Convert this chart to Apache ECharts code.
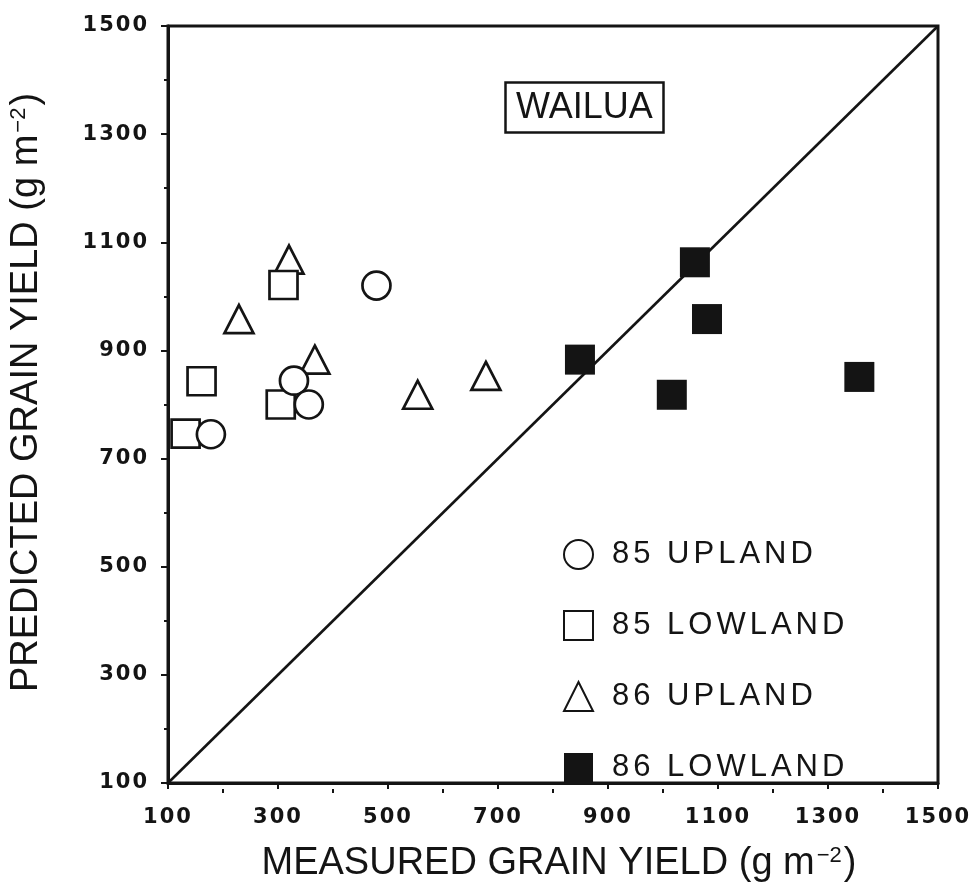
<!DOCTYPE html>
<html>
<head>
<meta charset="utf-8">
<title>WAILUA grain yield</title>
<script src="https://cdn.jsdelivr.net/npm/echarts@6/dist/echarts.min.js"></script>
<style>
  html, body { margin: 0; padding: 0; background: #fff; }
  #chart { width: 980px; height: 888px; }
</style>
</head>
<body>
<div id="chart"></div>
<script>
// Measured vs predicted grain yield (g m^-2), Wailua site
const upland85  = [[178, 745], [329, 844], [356, 800], [479, 1020]];
const lowland85 = [[132, 746], [161, 843], [305, 800], [310, 1021]];
const upland86  = [[229, 958], [320, 1068], [367, 883], [554, 818], [678, 853]];
const lowland86 = [[849, 883], [1016, 818], [1058, 1063], [1080, 958], [1357, 851]];

// 1:1 reference line
const oneToOne = [[100, 100], [1500, 1500]];

// axis ticks: labelled (major) and unlabelled (minor)
const majorTicks = [100, 300, 500, 700, 900, 1100, 1300, 1500];
const minorTicks = [200, 400, 600, 800, 1000, 1200, 1400];

// The lettering of this figure is widely tracked: legend text (31px) and
// tick numerals (21px) get extra letter spacing when painted.
(function () {
  const proto = CanvasRenderingContext2D.prototype;
  if (!('letterSpacing' in proto)) return;
  const fill = proto.fillText;
  proto.fillText = function (text, x, y, maxWidth) {
    const f = this.font || '';
    this.letterSpacing = /\b31px/.test(f) ? '4px' : /\b21px/.test(f) ? '2px' : '0px';
    return maxWidth === undefined ? fill.call(this, text, x, y) : fill.call(this, text, x, y, maxWidth);
  };
})();

const INK = '#141414';
const GRID = { left: 168, right: 42, top: 26, bottom: 99 };
const gridW = 980 - GRID.left - GRID.right;
const gridH = 888 - GRID.top - GRID.bottom;

const tickFont = {
  fontFamily: 'DejaVu Sans', fontWeight: 'bold', fontSize: 21, color: INK,
  formatter: v => String(v)
};
const titleFont = 'Liberation Sans';

function axisName(text) {
  return '{a|' + text + ' (g m}{s|−2}{a|)}';
}
const nameRich = {
  a: { fontFamily: titleFont, fontSize: 38, color: INK },
  s: { fontFamily: titleFont, fontSize: 22, color: INK, verticalAlign: 'top', padding: [0, 2, 16, 2] }
};

const openStyle = { color: '#fff', borderColor: INK, borderWidth: 2.7, opacity: 1 };

const chart = echarts.init(document.getElementById('chart'), null, { renderer: 'canvas' });
chart.setOption({
  backgroundColor: '#fff',
  animation: false,
  title: {
    text: 'WAILUA',
    left: 505, top: 82,
    padding: [8, 11, 7, 11],
    borderColor: INK, borderWidth: 2.5,
    textStyle: { fontFamily: titleFont, fontSize: 36, fontWeight: 'normal', color: INK }
  },
  legend: {
    orient: 'vertical',
    left: 558, top: 534,
    itemWidth: 29, itemHeight: 29,
    itemGap: 40,
    data: ['85 UPLAND', '85 LOWLAND', '86 UPLAND', '86 LOWLAND'],
    textStyle: { fontFamily: titleFont, fontSize: 31, color: INK, padding: [0, 0, 0, 14] }
  },
  grid: Object.assign({ show: true, borderColor: INK, borderWidth: 3, containLabel: false }, GRID),
  xAxis: [{
    type: 'value', min: 100, max: 1500,
    axisLine: { lineStyle: { color: INK, width: 3 } },
    axisTick: { customValues: majorTicks, length: 6, lineStyle: { color: INK, width: 2 } },
    axisLabel: Object.assign({ customValues: majorTicks, margin: 24 }, tickFont),
    splitLine: { show: false },
    name: axisName('MEASURED GRAIN YIELD'),
    nameLocation: 'middle', nameGap: 62,
    nameTextStyle: { rich: nameRich, padding: [0, 0, 0, 12] }
  }, {
    // minor ticks along the bottom edge
    type: 'value', min: 100, max: 1500, position: 'top', offset: -gridH,
    axisLine: { show: false },
    axisTick: { customValues: minorTicks, inside: true, length: 4, lineStyle: { color: INK, width: 2 } },
    axisLabel: { show: false },
    splitLine: { show: false }
  }],
  yAxis: [{
    type: 'value', min: 100, max: 1500,
    axisLine: { lineStyle: { color: INK, width: 3 } },
    axisTick: { customValues: majorTicks, length: 7, lineStyle: { color: INK, width: 2 } },
    axisLabel: Object.assign({ customValues: majorTicks, margin: 19 }, tickFont),
    splitLine: { show: false },
    name: axisName('PREDICTED GRAIN YIELD'),
    nameLocation: 'middle', nameGap: 122, nameRotate: 90,
    nameTextStyle: { rich: nameRich, padding: [0, 0, 0, 24] }
  }, {
    // minor ticks along the left edge
    type: 'value', min: 100, max: 1500, position: 'right', offset: -gridW,
    axisLine: { show: false },
    axisTick: { customValues: minorTicks, inside: true, length: 4, lineStyle: { color: INK, width: 2 } },
    axisLabel: { show: false },
    splitLine: { show: false }
  }],
  series: [
    {
      type: 'line', data: oneToOne, symbol: 'none', silent: true,
      lineStyle: { color: INK, width: 2.6 }, z: 1
    },
    {
      name: '86 UPLAND', type: 'scatter', data: upland86,
      symbol: 'triangle', symbolSize: [29, 28], itemStyle: openStyle, z: 2
    },
    {
      name: '85 LOWLAND', type: 'scatter', data: lowland85,
      symbol: 'rect', symbolSize: 28, itemStyle: openStyle, z: 3
    },
    {
      name: '85 UPLAND', type: 'scatter', data: upland85,
      symbol: 'circle', symbolSize: 28, itemStyle: openStyle, z: 4
    },
    {
      name: '86 LOWLAND', type: 'scatter', data: lowland86,
      symbol: 'rect', symbolSize: 30, itemStyle: { color: INK, opacity: 1 }, z: 5
    }
  ]
});
</script>
</body>
</html>
